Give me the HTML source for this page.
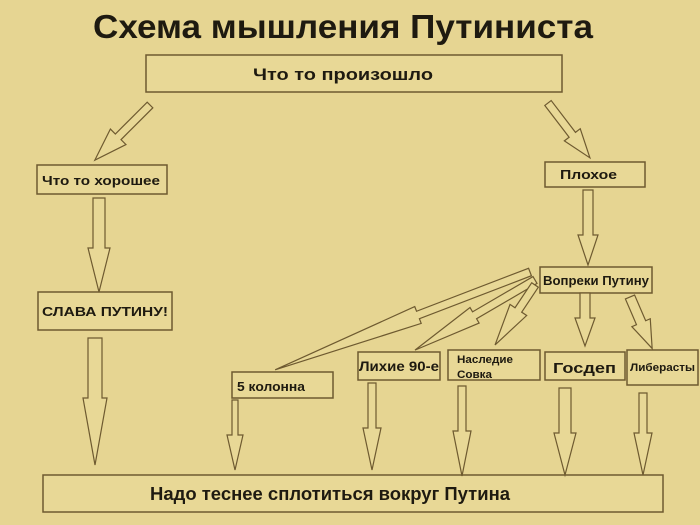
<!DOCTYPE html>
<html><head><meta charset="utf-8"><style>
body{margin:0;background:#e6d592;}
svg{display:block}
text{font-family:"Liberation Sans","DejaVu Sans",sans-serif;font-weight:bold;fill:#1e1a10}
.b{fill:#e8d896;stroke:#6e5a30;stroke-width:1.5}
.a{fill:#e8d896;stroke:#6e5a30;stroke-width:1.2}
</style></head><body>
<svg width="700" height="525" viewBox="0 0 700 525">
<rect width="700" height="525" fill="#e6d592"/>
<text x="343" y="38" font-size="33" text-anchor="middle" textLength="500" lengthAdjust="spacingAndGlyphs">Схема мышления Путиниста</text>
<rect class="b" x="146" y="55" width="416" height="37"/>
<text x="253" y="80" font-size="17" textLength="180" lengthAdjust="spacingAndGlyphs">Что то произошло</text>
<rect class="b" x="37" y="165" width="130" height="29"/>
<text x="42" y="185" font-size="13" textLength="118" lengthAdjust="spacingAndGlyphs">Что то хорошее</text>
<rect class="b" x="545" y="162" width="100" height="25"/>
<text x="560" y="179" font-size="13" textLength="57" lengthAdjust="spacingAndGlyphs">Плохое</text>
<rect class="b" x="38" y="292" width="134" height="38"/>
<text x="42" y="316" font-size="13" textLength="126" lengthAdjust="spacingAndGlyphs">СЛАВА ПУТИНУ!</text>
<rect class="b" x="540" y="267" width="112" height="26"/>
<text x="543" y="285" font-size="12.5" textLength="106" lengthAdjust="spacingAndGlyphs">Вопреки Путину</text>
<rect class="b" x="232" y="372" width="101" height="26"/>
<text x="237" y="391" font-size="12.5" textLength="68" lengthAdjust="spacingAndGlyphs">5 колонна</text>
<rect class="b" x="358" y="352" width="82" height="28"/>
<text x="359" y="371" font-size="14" textLength="80" lengthAdjust="spacingAndGlyphs">Лихие 90-е</text>
<rect class="b" x="448" y="350" width="92" height="30"/>
<text x="457" y="363" font-size="11" textLength="56" lengthAdjust="spacingAndGlyphs">Наследие</text>
<text x="457" y="378" font-size="11" textLength="35" lengthAdjust="spacingAndGlyphs">Совка</text>
<rect class="b" x="545" y="352" width="80" height="28"/>
<text x="553" y="373" font-size="15" textLength="63" lengthAdjust="spacingAndGlyphs">Госдеп</text>
<rect class="b" x="627" y="350" width="71" height="35"/>
<text x="630" y="371" font-size="11" textLength="65" lengthAdjust="spacingAndGlyphs">Либерасты</text>
<rect class="b" x="43" y="475" width="620" height="37"/>
<text x="150" y="500" font-size="18" textLength="360" lengthAdjust="spacingAndGlyphs">Надо теснее сплотиться вокруг Путина</text>

<g transform="translate(150,105) rotate(45)"><path class="a" d="M-4,0 L4,0 L4,45 L11,45 L0,78 L-11,45 L-4,45 Z"/></g>
<g transform="translate(548,103) rotate(-37.4)"><path class="a" d="M-4,0 L4,0 L4,40 L10,40 L0,69 L-10,40 L-4,40 Z"/></g>
<g transform="translate(99,198)"><path class="a" d="M-6,0 L6,0 L6,50 L11,50 L0,94 L-11,50 L-6,50 Z"/></g>
<g transform="translate(95,338)"><path class="a" d="M-7,0 L7,0 L7,60 L12,60 L0,127 L-12,60 L-7,60 Z"/></g>
<g transform="translate(588,190)"><path class="a" d="M-5,0 L5,0 L5,45 L10,45 L0,75 L-10,45 L-5,45 Z"/></g>
<g transform="translate(530,272) rotate(69)"><path class="a" d="M-4,0 L4,0 L4,120 L9,120 L0,273 L-9,120 L-4,120 Z"/></g>
<g transform="translate(535,280) rotate(59.7)"><path class="a" d="M-4,0 L4,0 L4,70 L9,70 L0,139 L-9,70 L-4,70 Z"/></g>
<g transform="translate(535,285) rotate(33.7)"><path class="a" d="M-4,0 L4,0 L4,30 L10,30 L0,72 L-10,30 L-4,30 Z"/></g>
<g transform="translate(585,293)"><path class="a" d="M-5,0 L5,0 L5,25 L10,25 L0,53 L-10,25 L-5,25 Z"/></g>
<g transform="translate(630,297) rotate(-23.3)"><path class="a" d="M-5,0 L5,0 L5,28 L10,28 L0,56 L-10,28 L-5,28 Z"/></g>
<g transform="translate(235,400)"><path class="a" d="M-3,0 L3,0 L3,35 L8,35 L0,70 L-8,35 L-3,35 Z"/></g>
<g transform="translate(372,383)"><path class="a" d="M-4,0 L4,0 L4,45 L9,45 L0,87 L-9,45 L-4,45 Z"/></g>
<g transform="translate(462,386)"><path class="a" d="M-4,0 L4,0 L4,45 L9,45 L0,90 L-9,45 L-4,45 Z"/></g>
<g transform="translate(565,388)"><path class="a" d="M-6,0 L6,0 L6,45 L11,45 L0,87 L-11,45 L-6,45 Z"/></g>
<g transform="translate(643,393)"><path class="a" d="M-4,0 L4,0 L4,40 L9,40 L0,82 L-9,40 L-4,40 Z"/></g>
</svg>
</body></html>
